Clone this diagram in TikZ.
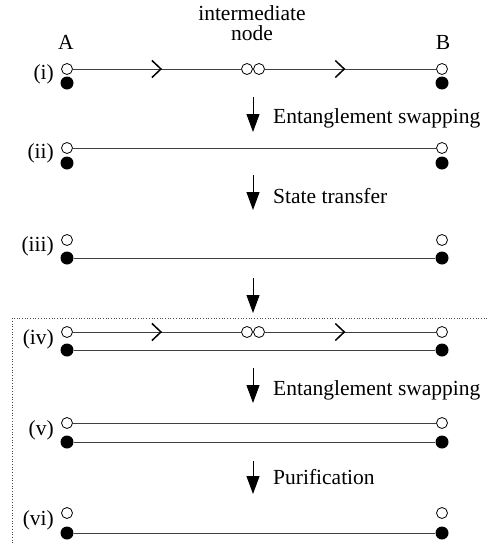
\documentclass[tikz,border=0pt]{standalone}
\usepackage{fontspec}
\setmainfont{Liberation Serif}
\usetikzlibrary{arrows.meta,decorations.markings}
\tikzset{
  opq/.style={circle,draw=black,fill=white,line width=0.8pt,minimum size=11pt,inner sep=0pt},
  fq/.style={circle,fill=black,minimum size=13pt,inner sep=0pt},
  lnk/.style={draw=black!75,line width=1pt},
  chev/.style={postaction={decorate},decoration={markings,mark=at position #1 with {\arrow[black,line width=1.5pt]{Straight Barb[length=9pt,width=17pt]}}}},
  step arrow/.style={line width=1pt,-{Triangle[length=18pt,width=13pt]}},
  lbl/.style={font=\fontsize{21.5}{19.5}\selectfont,inner sep=0pt},
  rowlbl/.style={lbl,anchor=east},
  steplbl/.style={lbl,anchor=west},
}
\begin{document}
\begin{tikzpicture}[x=1pt,y=-1pt]
\useasboundingbox (0,0) rectangle (487,544);
% dotted frame
\draw[black!70,dotted,line width=0.7pt] (487,318) -- (12,318) -- (12,544);
% Row (i)
\node[lbl,align=center] (tI) at (252,23) {intermediate\\node};
\node[lbl] (tA) at (66,42) {A};
\node[lbl] (tB) at (443,42) {B};
\node[rowlbl] (l1) at (54,74) {(i)};
\node[opq] (a1) at (67,69) {};
\node[fq] (b1) at (67,83) {};
\node[opq] (m1) at (247,69) {};
\node[opq] (n1) at (259,69) {};
\node[opq] (c1) at (442,69) {};
\node[fq] (d1) at (442,83) {};
\draw[lnk,chev=0.53] (a1) -- (m1);
\draw[lnk,chev=0.47] (n1) -- (c1);
% arrow 1
\coordinate (s1a) at (253,97);
\coordinate (s1b) at (253,132);
\draw[step arrow] (s1a) -- (s1b);
\node[steplbl] (e1) at (273,118) {Entanglement swapping};
% Row (ii)
\node[rowlbl] (l2) at (54,153) {(ii)};
\node[opq] (a2) at (67,148) {};
\node[fq] (b2) at (67,163) {};
\node[opq] (c2) at (442,148) {};
\node[fq] (d2) at (442,163) {};
\draw[lnk] (a2) -- (c2);
% arrow 2
\coordinate (s2a) at (253,175);
\coordinate (s2b) at (253,210);
\draw[step arrow] (s2a) -- (s2b);
\node[steplbl] (e2) at (273,196) {State transfer};
% Row (iii)
\node[rowlbl] (l3) at (54,246) {(iii)};
\node[opq] (a3) at (67,240) {};
\node[fq] (b3) at (67,258) {};
\node[opq] (c3) at (442,240) {};
\node[fq] (d3) at (442,258) {};
\draw[lnk] (b3) -- (d3);
% arrow 3
\coordinate (s3a) at (253,278);
\coordinate (s3b) at (253,313);
\draw[step arrow] (s3a) -- (s3b);
% Row (iv)
\node[rowlbl] (l4) at (54,339) {(iv)};
\node[opq] (a4) at (67,332) {};
\node[fq] (b4) at (67,350) {};
\node[opq] (m4) at (247,332) {};
\node[opq] (n4) at (259,332) {};
\node[opq] (c4) at (442,332) {};
\node[fq] (d4) at (442,350) {};
\draw[lnk,chev=0.53] (a4) -- (m4);
\draw[lnk,chev=0.47] (n4) -- (c4);
\draw[lnk] (b4) -- (d4);
% arrow 4
\coordinate (s4a) at (253,368);
\coordinate (s4b) at (253,403);
\draw[step arrow] (s4a) -- (s4b);
\node[steplbl] (e4) at (273,390) {Entanglement swapping};
% Row (v)
\node[rowlbl] (l5) at (54,430) {(v)};
\node[opq] (a5) at (67,423) {};
\node[fq] (b5) at (67,442) {};
\node[opq] (c5) at (442,423) {};
\node[fq] (d5) at (442,442) {};
\draw[lnk] (a5) -- (c5);
\draw[lnk] (b5) -- (d5);
% arrow 5
\coordinate (s5a) at (253,461);
\coordinate (s5b) at (253,494);
\draw[step arrow] (s5a) -- (s5b);
\node[steplbl] (e5) at (273,477) {Purification};
% Row (vi)
\node[rowlbl] (l6) at (54,520) {(vi)};
\node[opq] (a6) at (67,513) {};
\node[fq] (b6) at (67,533) {};
\node[opq] (c6) at (442,513) {};
\node[fq] (d6) at (442,533) {};
\draw[lnk] (b6) -- (d6);
\end{tikzpicture}
\end{document}
